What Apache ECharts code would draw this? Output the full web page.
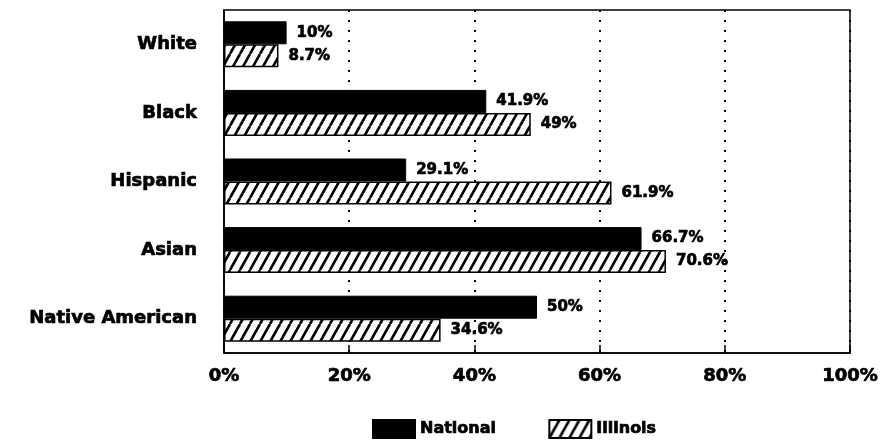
<!DOCTYPE html>
<html>
<head>
<meta charset="utf-8">
<script src="https://cdn.jsdelivr.net/npm/echarts@6/dist/echarts.min.js"></script>
<style>
  html, body { margin: 0; padding: 0; background: #fff; }
  #chart { width: 883px; height: 448px; }
</style>
</head>
<body>
<div id="chart"></div>
<script>
var categories = ['White', 'Black', 'Hispanic', 'Asian', 'Native American'];
var national = [10, 41.9, 29.1, 66.7, 50];
var illinois = [8.7, 49, 61.9, 70.6, 34.6];
var xTicks = [0, 20, 40, 60, 80, 100];

// hatch pattern for the Illinois bars
function hatch() {
  var c = document.createElement('canvas');
  c.width = 10;
  c.height = 18;
  var ctx = c.getContext('2d');
  ctx.fillStyle = '#fff';
  ctx.fillRect(0, 0, 10, 18);
  ctx.strokeStyle = '#000';
  ctx.lineWidth = 2.6;
  for (var x0 = -10; x0 <= 10; x0 += 10) {
    ctx.beginPath();
    ctx.moveTo(x0, 18);
    ctx.lineTo(x0 + 10, 0);
    ctx.stroke();
  }
  return c;
}

var font = 'DejaVu Sans';
// heavy text, a thin stroke thickens the bold face
var heavy = { fontFamily: font, fontWeight: 'bold', color: '#000', textBorderColor: '#000', textBorderWidth: 0.7 };

var chart = echarts.init(document.getElementById('chart'));
chart.setOption({
  animation: false,
  backgroundColor: '#fff',
  textStyle: { fontFamily: font, color: '#000' },
  grid: {
    left: 224, top: 10, width: 626, height: 343,
    show: true, borderColor: '#000', borderWidth: 1.5
  },
  legend: {
    left: 367, top: 414,
    itemWidth: 42, itemHeight: 18, itemGap: 52,
    icon: 'rect',
    textStyle: Object.assign({ fontSize: 16 }, heavy),
    data: ['National', 'Illinois']
  },
  xAxis: {
    type: 'value',
    min: xTicks[0], max: xTicks[xTicks.length - 1], interval: 20,
    axisLine: { show: true, lineStyle: { color: '#000', width: 1.5 } },
    axisTick: { show: true, inside: true, length: 8, lineStyle: { color: '#000', width: 1.5 } },
    axisLabel: Object.assign({ margin: 14, fontSize: 18, formatter: '{value}%' }, heavy),
    splitLine: { show: true, lineStyle: { color: '#000', width: 2, type: [2, 8] } }
  },
  yAxis: {
    type: 'category',
    inverse: true,
    data: categories,
    axisLine: { show: true, lineStyle: { color: '#000', width: 1.5 } },
    axisTick: { show: false },
    axisLabel: Object.assign({ margin: 27, fontSize: 18 }, heavy)
  },
  series: [
    {
      name: 'National',
      type: 'bar',
      data: national,
      barWidth: 23,
      barGap: '0%',
      itemStyle: { color: '#000', borderColor: '#000', borderWidth: 1 },
      label: Object.assign({ show: true, position: 'right', distance: 10, formatter: '{c}%', fontSize: 15 }, heavy)
    },
    {
      name: 'Illinois',
      type: 'bar',
      data: illinois,
      barWidth: 23,
      barGap: '0%',
      itemStyle: {
        color: { image: hatch(), repeat: 'repeat' },
        borderColor: '#000', borderWidth: 1.5
      },
      label: Object.assign({ show: true, position: 'right', distance: 10, formatter: '{c}%', fontSize: 15 }, heavy)
    }
  ]
});
</script>
</body>
</html>
